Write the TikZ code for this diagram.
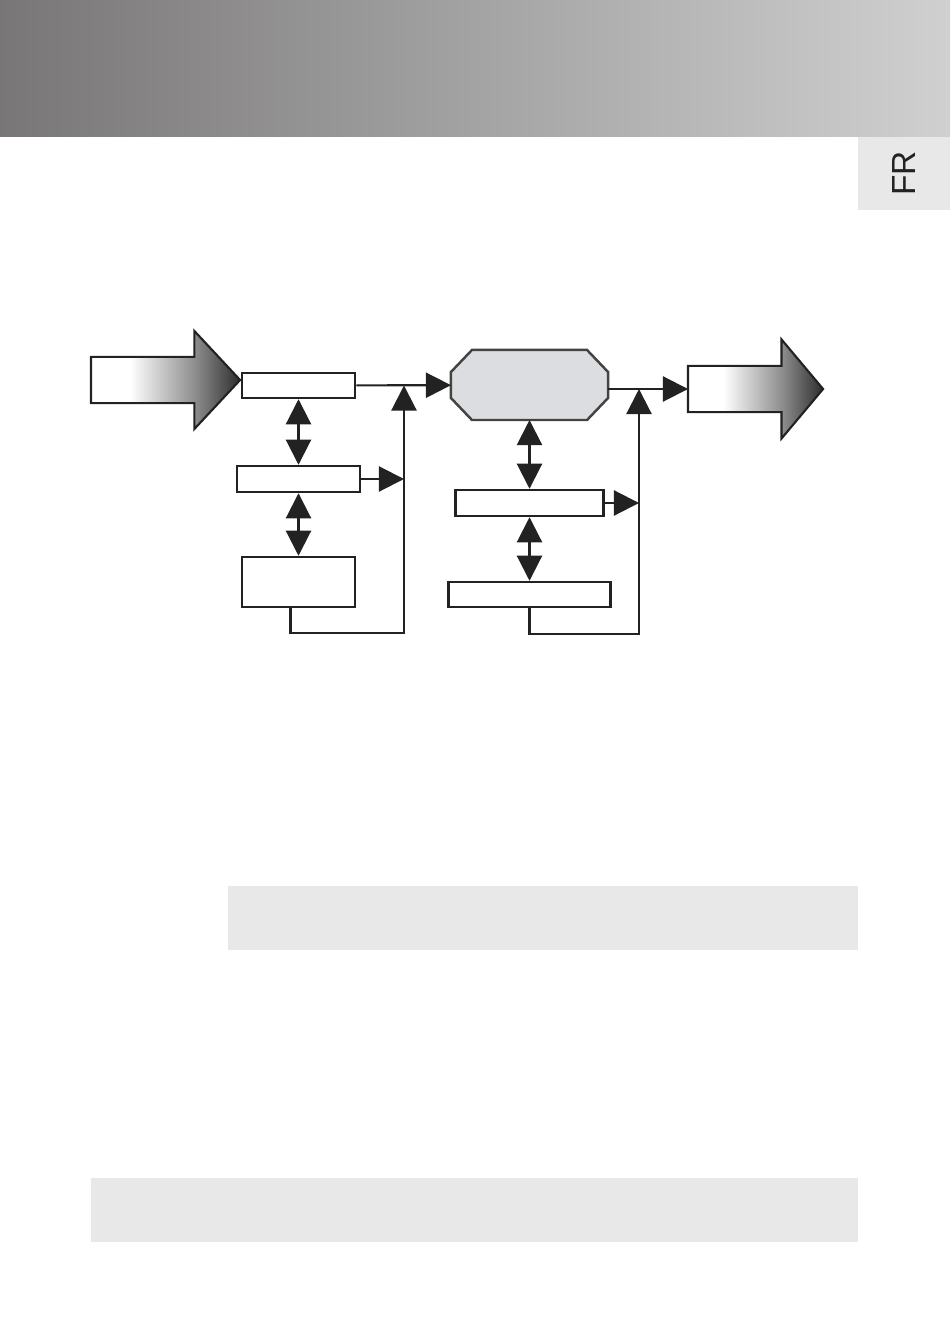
\documentclass[tikz,border=0pt]{standalone}
\usepackage{fontspec}
\setmainfont{Liberation Sans}
\usetikzlibrary{arrows.meta, positioning, shapes.arrows, calc}
\definecolor{cdark}{HTML}{222222}
\definecolor{cbandl}{HTML}{787677}
\definecolor{cbandr}{HTML}{D0D0D0}
\definecolor{cpanel}{HTML}{E8E8E8}
\definecolor{coct}{HTML}{DCDDE0}
\pgfdeclarehorizontalshading{arrowshade}{100bp}{color(0bp)=(white); color(38bp)=(white);
  color(60bp)=(black!45); color(75bp)=(black!82); color(100bp)=(black!82)}
\tikzset{
  every picture/.style={line width=0.6pt},
  blk/.style={draw=cdark, fill=white, line width=0.7pt, inner sep=0pt},
  octa/.style={inner sep=0pt, outer sep=0pt},
  octline/.style={draw=cdark!85, fill=coct, line width=0.7pt},
  bigarrow/.style={single arrow, draw=cdark, line width=0.6pt, inner xsep=0pt, inner ysep=0.22cm, outer sep=0pt,
    single arrow head indent=0pt, anchor=tail, shading=arrowshade},
  arrow/.style={-{Triangle[length=0.25cm, width=0.25cm]}, draw=cdark},
  dbl/.style={{Triangle[length=0.25cm, width=0.25cm]}-{Triangle[length=0.25cm, width=0.25cm]}, draw=cdark},
  tab/.style={fill=cpanel, text=cdark, font=\fontsize{9.5}{11}\selectfont, inner sep=0pt},
}

\begin{document}
\begin{tikzpicture}[x=0.01cm, y=-0.01cm]
  \useasboundingbox (0,0) rectangle (950,1325);
  % header band and tab
  \shade[left color=cbandl, right color=cbandr] (0,0) rectangle (950,137);
  \node[tab, rotate=90, minimum width=0.73cm, minimum height=0.92cm] (fr) at (904,173.5) {FR};
  % input and output
  \node[bigarrow, minimum height=1.49cm, single arrow head extend=0.26cm, single arrow tip angle=94] (in) at (91,380) {};
  \node[bigarrow, minimum height=1.35cm, single arrow head extend=0.265cm, single arrow tip angle=100] (out) at (688,389) {};
  % left chain
  \node[blk, minimum width=1.13cm, minimum height=0.25cm] (a1) at (298.5,385.5) {};
  \node[blk, minimum width=1.23cm, minimum height=0.26cm] (a2) at (298.5,479) {};
  \node[blk, minimum width=1.13cm, minimum height=0.50cm] (a3) at (298.5,582) {};
  \coordinate (ja) at (404,385.5);
  \draw[dbl] (a1) -- (a2);
  \draw[dbl] (a2) -- (a3);
  % right chain
  \node[octa, minimum width=1.57cm, minimum height=0.70cm] (oct) at (529.5,385) {};
  \draw[octline] ($(oct.north west)+(21,0)$) -- ($(oct.north east)+(-21,0)$) -- ($(oct.north east)+(0,22)$)
    -- ($(oct.south east)+(0,-22)$) -- ($(oct.south east)+(-21,0)$) -- ($(oct.south west)+(21,0)$)
    -- ($(oct.south west)+(0,-22)$) -- ($(oct.north west)+(0,22)$) -- cycle;
  \node[blk, minimum width=1.48cm, minimum height=0.26cm] (b1) at (529.5,503) {};
  \node[blk, minimum width=1.62cm, minimum height=0.25cm] (b2) at (529.5,594.5) {};
  \coordinate (jb) at (639,389);
  \draw[dbl] (oct) -- (b1);
  \draw[dbl] (b1) -- (b2);
  % feedback lines
  \draw[arrow] (a1) -- (oct);
  \draw[arrow] (a2.east) -- (a2.east -| ja);
  \draw[arrow] (a3.south) ++(-8,0) -- ++(0,25) -| (ja);
  \draw[arrow] ($(oct.east)+(0,4)$) -- (out.tail);
  \draw[arrow] (b1.east) -- (b1.east -| jb);
  \draw[arrow] (b2.south) -- ++(0,26) -| (jb);
  % grey panels
  \fill[cpanel] (228,886) rectangle (858,950);
  \fill[cpanel] (91,1178) rectangle (858,1242);
\end{tikzpicture}
\end{document}
